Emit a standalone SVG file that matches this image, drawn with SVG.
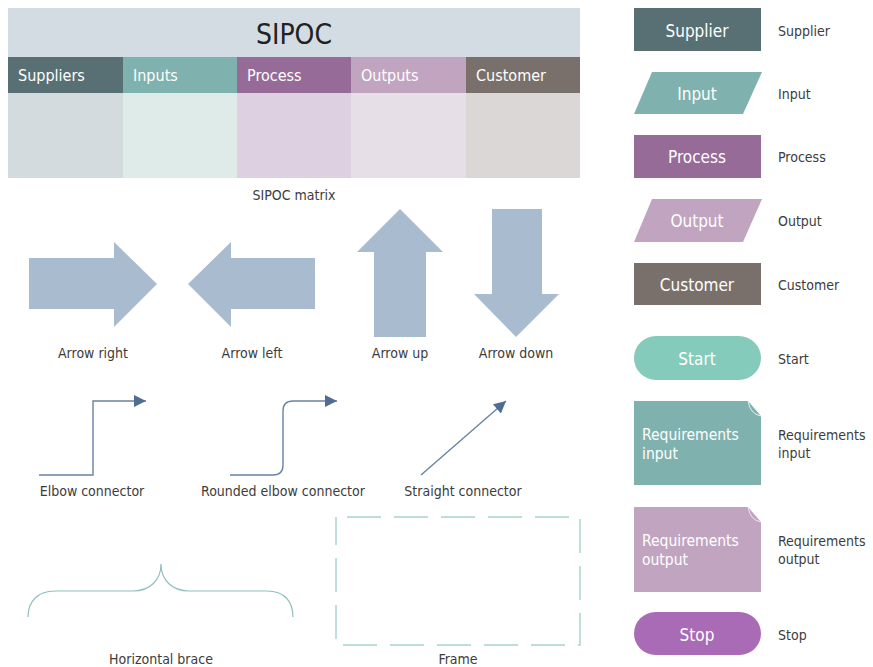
<svg xmlns="http://www.w3.org/2000/svg" width="873" height="667" viewBox="0 0 873 667">
<defs>
<style>
text{font-family:"DejaVu Sans Condensed","DejaVu Sans",sans-serif;}
.lbl{font-size:14px;fill:#3c3c3c;}
.hdr{font-size:16px;fill:#ffffff;}
.shp{font-size:17px;fill:#ffffff;text-anchor:middle;}
.req{font-size:15.5px;fill:#ffffff;}
.mid{text-anchor:middle;}
.bigarrow{fill:#a9bbce;}
.conn{fill:none;stroke:#6983a3;stroke-width:1.4;}
.brace{fill:none;stroke:#8fc0bc;stroke-width:1.2;}
</style>
<marker id="ah" viewBox="0 0 10 10" refX="10" refY="5" markerWidth="13" markerHeight="12" markerUnits="userSpaceOnUse" orient="auto">
<path d="M0,0 L10,5 L0,10 Z" fill="#4f6d91"/>
</marker>
</defs>
<rect width="873" height="667" fill="#ffffff"/>

<g id="sipoc-matrix">
<rect x="8" y="8" width="572" height="49" fill="#d4dce3"/>
<text x="294" y="44" class="mid" style="font-size:28px;fill:#222">SIPOC</text>
<rect x="8" y="57" width="115" height="36" fill="#587073"/>
<rect x="123" y="57" width="114" height="36" fill="#7fb2ae"/>
<rect x="237" y="57" width="114" height="36" fill="#966b98"/>
<rect x="351" y="57" width="115" height="36" fill="#c1a5c0"/>
<rect x="466" y="57" width="114" height="36" fill="#7a706b"/>
<rect x="8" y="93" width="115" height="85" fill="#d3dbde"/>
<rect x="123" y="93" width="114" height="85" fill="#deebe8"/>
<rect x="237" y="93" width="114" height="85" fill="#ddd0e0"/>
<rect x="351" y="93" width="115" height="85" fill="#e6dfe7"/>
<rect x="466" y="93" width="114" height="85" fill="#dbd7d6"/>
<text x="18" y="81" class="hdr">Suppliers</text>
<text x="133" y="81" class="hdr">Inputs</text>
<text x="247" y="81" class="hdr">Process</text>
<text x="361" y="81" class="hdr">Outputs</text>
<text x="476" y="81" class="hdr">Customer</text>
<text x="294" y="200" class="lbl mid">SIPOC matrix</text>
</g>

<g id="arrow-right">
<path class="bigarrow" d="M29,258 H114 V242 L157,284 L114,327 V309 H29 Z"/>
<text x="93" y="358" class="lbl mid">Arrow right</text>
</g>
<g id="arrow-left">
<path class="bigarrow" d="M188,284 L231,242 V258 H315 V309 H231 V327 Z"/>
<text x="252" y="358" class="lbl mid">Arrow left</text>
</g>
<g id="arrow-up">
<path class="bigarrow" d="M400,209 L443,252 H426 V337 H374 V252 H357 Z"/>
<text x="400" y="358" class="lbl mid">Arrow up</text>
</g>
<g id="arrow-down">
<path class="bigarrow" d="M492,209 H542 V294 H559 L516,337 L474,294 H492 Z"/>
<text x="516" y="358" class="lbl mid">Arrow down</text>
</g>

<g id="connectors">
<path class="conn" d="M39,475 H93 V401 H146" marker-end="url(#ah)"/>
<path class="conn" d="M230,475 H273 Q283,475 283,465 V411 Q283,401 293,401 H337" marker-end="url(#ah)"/>
<path class="conn" d="M421,475 L506,401" marker-end="url(#ah)"/>
</g>
<g id="connector-labels">
<text x="92" y="496" class="lbl mid">Elbow connector</text>
<text x="283" y="496" class="lbl mid">Rounded elbow connector</text>
<text x="463" y="496" class="lbl mid">Straight connector</text>
</g>

<g id="horizontal-brace">
<path class="brace" d="M28,617 C28,601 38,591 55,591 L133,591 C150,591 161,580 161,564 C161,580 172,591 189,591 L267,591 C284,591 293,601 293,617"/>
<text x="161" y="664" class="lbl mid">Horizontal brace</text>
</g>

<g id="frame">
<rect x="336" y="517" width="244" height="128" fill="none" stroke="#a9d1cd" stroke-width="1.4" stroke-dasharray="34 13" stroke-dashoffset="-11"/>
<text x="458" y="664" class="lbl mid">Frame</text>
</g>

<g id="legend-supplier">
<rect x="634" y="8" width="127" height="43" fill="#587073"/>
<text x="697" y="37" class="shp">Supplier</text>
<text x="778" y="36" class="lbl">Supplier</text>
</g>
<g id="legend-input">
<path d="M652,72 H762 L743,114 H634 Z" fill="#7fb2ae"/>
<text x="697" y="100" class="shp">Input</text>
<text x="778" y="99" class="lbl">Input</text>
</g>
<g id="legend-process">
<rect x="634" y="135" width="127" height="43" fill="#966b98"/>
<text x="697" y="163" class="shp">Process</text>
<text x="778" y="162" class="lbl">Process</text>
</g>
<g id="legend-output">
<path d="M652,199 H762 L743,242 H634 Z" fill="#c1a5c0"/>
<text x="697" y="227" class="shp">Output</text>
<text x="778" y="226" class="lbl">Output</text>
</g>
<g id="legend-customer">
<rect x="634" y="263" width="127" height="42" fill="#7a706b"/>
<text x="697" y="291" class="shp">Customer</text>
<text x="778" y="290" class="lbl">Customer</text>
</g>
<g id="legend-start">
<rect x="634" y="336" width="127" height="44" rx="22" fill="#85cbbb"/>
<text x="697" y="365" class="shp">Start</text>
<text x="778" y="364" class="lbl">Start</text>
</g>
<g id="legend-requirements-input">
<path d="M634,401 H748 L761,416 V485 H634 Z" fill="#7fb2ae"/>
<path d="M748,401 Q750,414 761,416" fill="none" stroke="#e6f0ef" stroke-width="1"/>
<text x="642" y="440" class="req">Requirements</text>
<text x="642" y="459" class="req">input</text>
<text x="778" y="440" class="lbl">Requirements</text>
<text x="778" y="458" class="lbl">input</text>
</g>
<g id="legend-requirements-output">
<path d="M634,507 H748 L761,522 V592 H634 Z" fill="#c1a5c0"/>
<path d="M748,507 Q750,520 761,522" fill="none" stroke="#efe6ee" stroke-width="1"/>
<text x="642" y="546" class="req">Requirements</text>
<text x="642" y="565" class="req">output</text>
<text x="778" y="546" class="lbl">Requirements</text>
<text x="778" y="564" class="lbl">output</text>
</g>
<g id="legend-stop">
<rect x="634" y="612" width="127" height="43" rx="21.5" fill="#a96bb5"/>
<text x="697" y="641" class="shp">Stop</text>
<text x="778" y="640" class="lbl">Stop</text>
</g>
</svg>
